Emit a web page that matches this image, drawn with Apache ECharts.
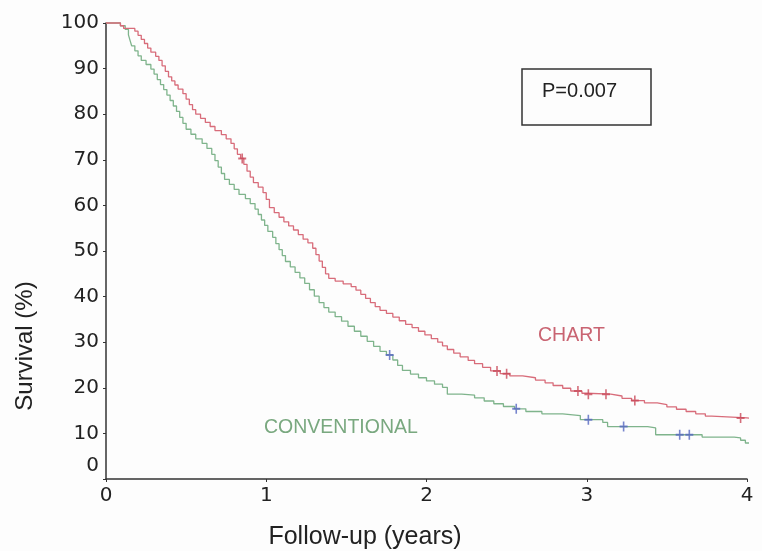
<!DOCTYPE html>
<html><head><meta charset="utf-8">
<script src="https://cdn.jsdelivr.net/npm/echarts@6/dist/echarts.min.js"></script>
<style>html,body{margin:0;padding:0;background:#fff}#c{width:762px;height:551px}</style>
</head><body><div id="c"></div>
<script>
var xTicks = [0, 1, 2, 3, 4];
var yTicks = [0, 10, 20, 30, 40, 50, 60, 70, 80, 90, 100];
var chartCurve = [[0,100],[0.09,99.4],[0.11,98.8],[0.18,98.2],[0.2,97.3],[0.22,96.4],[0.24,95.5],[0.26,94.5],[0.28,93.6],[0.31,92.7],[0.33,91.8],[0.35,90.6],[0.37,89.4],[0.39,88.2],[0.41,87.3],[0.43,86.4],[0.45,85.5],[0.48,84.5],[0.5,83.3],[0.52,82.1],[0.54,81],[0.56,80],[0.59,79.1],[0.62,78.2],[0.65,77.3],[0.68,76.4],[0.72,75.5],[0.75,74.6],[0.78,73.6],[0.8,72.4],[0.82,71.2],[0.84,70.3],[0.86,69],[0.88,67.5],[0.9,66.2],[0.92,65],[0.95,64],[0.98,62.8],[1.0,61.3],[1.02,59.5],[1.05,58.4],[1.08,57.4],[1.11,56.4],[1.14,55.5],[1.17,54.6],[1.2,53.6],[1.23,52.6],[1.26,51.8],[1.29,50.6],[1.31,49.2],[1.33,47.8],[1.35,46.4],[1.37,45],[1.39,44],[1.43,43.4],[1.48,42.8],[1.53,42.2],[1.56,41.4],[1.59,40.5],[1.62,39.6],[1.65,38.7],[1.68,37.8],[1.71,37],[1.75,36.3],[1.79,35.5],[1.83,34.7],[1.87,33.9],[1.91,33.2],[1.95,32.4],[1.99,31.6],[2.03,30.8],[2.07,30],[2.1,29.2],[2.13,28.4],[2.17,27.6],[2.21,26.8],[2.26,26],[2.3,25.3],[2.35,24.5],[2.4,23.7],[2.46,23.1],[2.52,22.6],[2.6,22.2],[2.68,21.7],[2.74,21.1],[2.79,20.5],[2.85,19.9],[2.9,19.3],[2.97,18.8],[3.0,18.6],[3.15,18.2],[3.22,17.7],[3.28,17.2],[3.36,16.7],[3.44,16.3],[3.5,15.8],[3.56,15.3],[3.62,14.8],[3.68,14.3],[3.74,13.8],[3.78,13.4],[4.0,13.1],[4.09,13.1]];
var chartCensor = [[0.85,70.3],[2.44,23.7],[2.5,23.1],[2.945,19.3],[3.01,18.6],[3.12,18.6],[3.30,17.2],[3.96,13.4]];
var convCurve = [[0,100],[0.09,99.4],[0.12,98.6],[0.14,97.4],[0.15,96.2],[0.16,95],[0.18,93.9],[0.2,92.8],[0.22,91.8],[0.25,90.9],[0.28,89.9],[0.3,88.8],[0.32,87.6],[0.34,86.5],[0.36,85.4],[0.38,84.2],[0.4,83],[0.42,81.8],[0.44,80.6],[0.46,79.3],[0.48,78],[0.5,76.7],[0.53,75.6],[0.56,74.6],[0.6,73.6],[0.63,72.5],[0.66,71.2],[0.68,69.8],[0.7,68.4],[0.72,67],[0.74,65.7],[0.77,64.6],[0.8,63.5],[0.83,62.4],[0.87,61.5],[0.9,60.4],[0.93,59.2],[0.95,58],[0.97,56.8],[0.99,55.6],[1.01,54.3],[1.04,53],[1.06,51.6],[1.08,50.3],[1.1,49],[1.12,47.7],[1.15,46.5],[1.18,45.3],[1.21,44.1],[1.24,42.9],[1.27,41.5],[1.3,40.1],[1.33,38.7],[1.36,37.6],[1.39,36.6],[1.43,35.6],[1.47,34.6],[1.51,33.5],[1.55,32.4],[1.59,31.3],[1.63,30.2],[1.67,29.1],[1.71,28],[1.75,27.2],[1.79,26.1],[1.82,24.9],[1.85,23.8],[1.9,23],[1.95,22.2],[2.0,21.5],[2.05,20.8],[2.1,20.1],[2.13,18.6],[2.22,18.4],[2.3,17.8],[2.36,17.1],[2.42,16.5],[2.48,15.9],[2.55,15.4],[2.62,14.8],[2.72,14.3],[2.85,13.9],[2.96,13.0],[3.1,12.4],[3.13,11.5],[3.38,11.2],[3.43,9.7],[3.68,9.7],[3.72,9.2],[3.92,9.0],[3.96,8.5],[3.99,7.9],[4.09,7.9]];
var convCensor = [[1.77,27.2],[2.56,15.4],[3.01,13.0],[3.23,11.5],[3.58,9.7],[3.64,9.7]];
var groupLabels = ['CHART', 'CONVENTIONAL'];
var pText = 'P=0.007';
var xTitle = 'Follow-up (years)';
var yTitle = 'Survival (%)';

var FONT = '"Liberation Sans", Arial, sans-serif';
var TICKFONT = '"DejaVu Sans", sans-serif';
var plus = 'path://M4,0h2v4h4v2h-4v4h-2v-4h-4v-2h4z';
var chart = echarts.init(document.getElementById('c'), null, {renderer: 'canvas'});
chart.setOption({
  animation: false,
  backgroundColor: '#fdfdfd',
  grid: {left: 106, right: 15, top: 23, bottom: 72},
  xAxis: {
    type: 'value', min: 0, max: 4, interval: 1,
    axisLine: {lineStyle: {color: '#333', width: 1.5}},
    axisTick: {show: true, length: 3, inside: false, lineStyle: {color: '#333'}},
    splitLine: {show: false},
    axisLabel: {color: '#222', fontSize: 20, fontFamily: TICKFONT, margin: 7,
      formatter: function (v) { return xTicks.indexOf(v) >= 0 ? String(v) : ''; }}
  },
  yAxis: {
    type: 'value', min: 0, max: 100, interval: 10,
    axisLine: {show: true, lineStyle: {color: '#333', width: 1.5}},
    axisTick: {show: true, length: 3, lineStyle: {color: '#333'}},
    splitLine: {show: false},
    axisLabel: {color: '#222', fontSize: 20, fontFamily: TICKFONT, margin: 7,
      formatter: function (v) { if (yTicks.indexOf(v) < 0) return ''; return v === 0 ? '{z|0}' : String(v); },
      rich: {z: {fontSize: 20, fontFamily: TICKFONT, color: '#222', padding: [0, 0, 26, 0]}}}
  },
  series: [
    {type: 'line', name: groupLabels[0], data: chartCurve, step: 'end', showSymbol: false, clip: false,
     lineStyle: {color: '#d86c7a', width: 1.3}, z: 3},
    {type: 'line', name: groupLabels[1], data: convCurve, step: 'end', showSymbol: false, clip: false,
     lineStyle: {color: '#7fb48c', width: 1.3}, z: 2},
    {type: 'scatter', data: chartCensor, symbol: plus, symbolSize: [8, 10], clip: false,
     itemStyle: {color: '#c94a5a'}, z: 4},
    {type: 'scatter', data: convCensor, symbol: plus, symbolSize: [8, 10], clip: false,
     itemStyle: {color: '#5566c0'}, z: 4}
  ],
  graphic: [
    {type: 'rect', shape: {x: 522, y: 69, width: 129, height: 56}, style: {fill: 'none', stroke: '#333', lineWidth: 1.5}},
    {type: 'text', x: 542, y: 91, style: {text: pText, font: '20px ' + FONT, fill: '#222', verticalAlign: 'middle'}},
    {type: 'text', x: 538, y: 336, style: {text: groupLabels[0], font: '19.5px ' + FONT, fill: '#c96472', verticalAlign: 'middle'}},
    {type: 'text', x: 264, y: 428, style: {text: groupLabels[1], font: '19.5px ' + FONT, fill: '#79a87f', verticalAlign: 'middle'}},
    {type: 'text', x: 365, y: 537, style: {text: xTitle, font: '25px ' + FONT, fill: '#222', align: 'center', verticalAlign: 'middle'}},
    {type: 'text', x: 25, y: 346, rotation: Math.PI / 2, style: {text: yTitle, font: '24px ' + FONT, fill: '#222', align: 'center', verticalAlign: 'middle'}}
  ]
});
</script></body></html>
